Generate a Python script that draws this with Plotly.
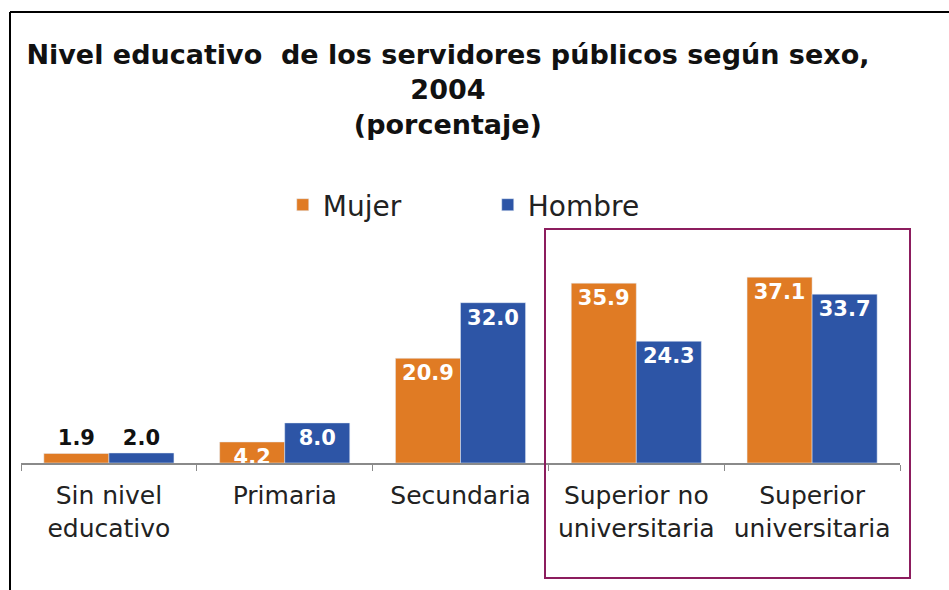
import plotly.graph_objects as go

# Data
categories = ["Sin nivel<br>educativo", "Primaria", "Secundaria",
              "Superior no<br>universitaria", "Superior<br>universitaria"]
mujer = [1.9, 4.2, 20.9, 35.9, 37.1]
hombre = [2.0, 8.0, 32.0, 24.3, 33.7]

W, H = 949, 590
L, R, T, B = 21, 49, 250, 127
plot_w = W - L - R
plot_h = H - T - B
px_per_unit = 5.01


def px_x(px):
    return (px - L) / plot_w


def px_y(py):
    return (H - B - py) / plot_h


def label_pos(vals):
    return ["outside" if v < 3 else "inside" for v in vals]


def label_col(vals):
    return ["#111111" if v < 3 else "white" for v in vals]


fig = go.Figure()
fig.add_trace(go.Bar(
    x=categories, y=mujer, name="Mujer",
    marker_color="#E07B24",
    text=[f"{v:.1f}" for v in mujer],
    textposition=label_pos(mujer),
    textfont=dict(family="DejaVu Sans", size=21, color=label_col(mujer), weight="bold"),
    insidetextanchor="end", constraintext="none", cliponaxis=False,
))
fig.add_trace(go.Bar(
    x=categories, y=hombre, name="Hombre",
    marker_color="#2D55A6",
    text=[f"{v:.1f}" for v in hombre],
    textposition=label_pos(hombre),
    textfont=dict(family="DejaVu Sans", size=21, color=label_col(hombre), weight="bold"),
    insidetextanchor="end", constraintext="none", cliponaxis=False,
))

fig.update_layout(
    width=W, height=H,
    margin=dict(l=L, r=R, t=T, b=B),
    paper_bgcolor="white", plot_bgcolor="white",
    barmode="group", bargap=0.26, bargroupgap=0,
    font=dict(family="DejaVu Sans", color="#222222"),
    title=dict(
        text="<b>Nivel educativo  de los servidores públicos según sexo,<br>2004<br>(porcentaje)</b>",
        x=0.472, xanchor="center", y=1 - 64 / H, yanchor="top",
        font=dict(family="DejaVu Sans", size=27, color="#111111"),
    ),
    legend=dict(
        orientation="h", x=0.531, xanchor="center", y=1 - 180 / H, yanchor="top",
        yref="container", font=dict(size=28, color="#222222"),
        entrywidth=160, entrywidthmode="pixels",
        bgcolor="rgba(0,0,0,0)",
    ),
)

fig.update_xaxes(
    showline=True, linecolor="#8a8a8a", linewidth=2,
    ticks="outside", tickson="boundaries", ticklen=6, tickcolor="#8a8a8a",
    tickfont=dict(size=25, color="#222222"),
    ticklabelstandoff=9,
)
fig.update_yaxes(range=[0, plot_h / px_per_unit], visible=False)

# highlight box around the two "Superior" groups
fig.add_shape(type="rect", xref="paper", yref="paper",
              x0=px_x(545), x1=px_x(910), y0=px_y(578), y1=px_y(229),
              line=dict(color="#8C1D5E", width=2))
# outer frame (left and top edges)
fig.add_shape(type="line", xref="paper", yref="paper",
              x0=px_x(10), x1=px_x(949), y0=px_y(12), y1=px_y(12),
              line=dict(color="black", width=2))
fig.add_shape(type="line", xref="paper", yref="paper",
              x0=px_x(10), x1=px_x(10), y0=px_y(12), y1=px_y(590),
              line=dict(color="black", width=2))

# page body has a default margin; drop it so the figure sits at the corner
fig.write_html("out.html", config={"displayModeBar": False},
               post_script="document.body.style.margin='0px';")
